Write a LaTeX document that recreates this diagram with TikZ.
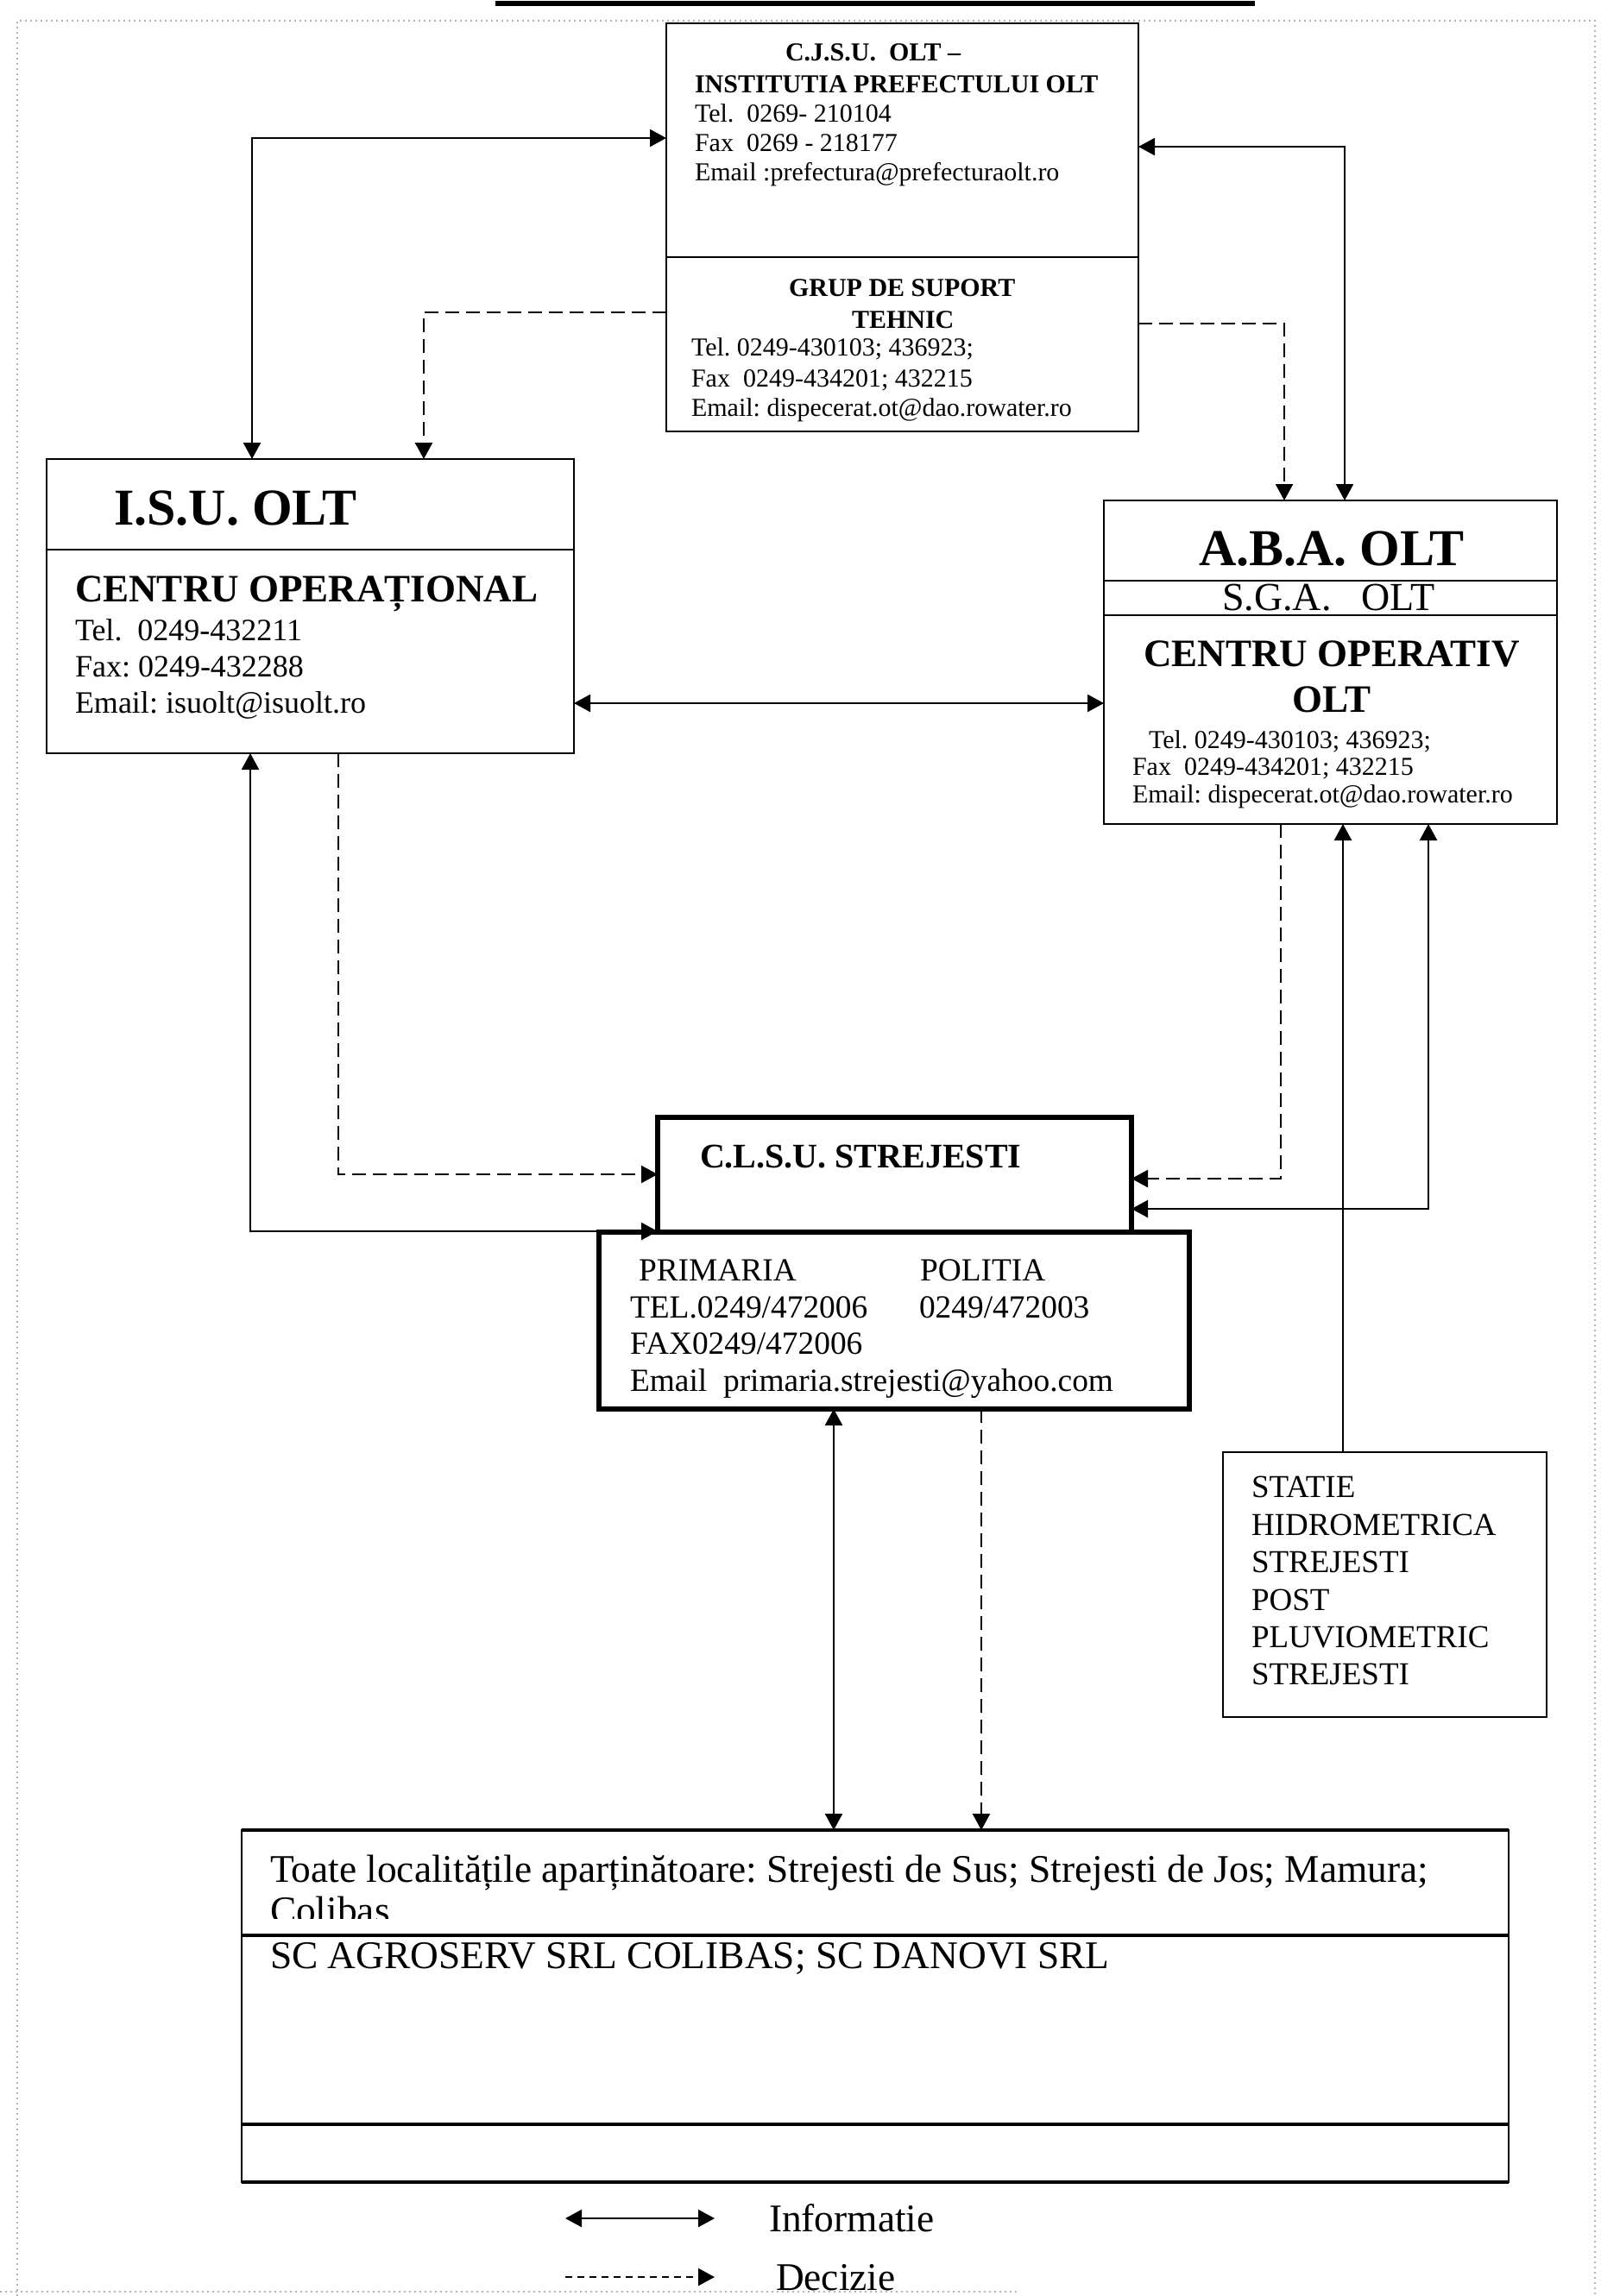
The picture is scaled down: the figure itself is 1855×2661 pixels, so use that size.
\documentclass[tikz,border=0pt]{standalone}
\usepackage{fontspec}
\setmainfont{Liberation Serif}
\usetikzlibrary{arrows.meta,calc}
\newcommand\FsA{\fontsize{15}{18}\selectfont}
\newcommand\FsBig{\fontsize{30}{36}\selectfont\bfseries}
\newcommand\FsMid{\fontsize{22.5}{27}\selectfont\bfseries}
\newcommand\FsSga{\fontsize{23}{27}\selectfont}
\newcommand\FsIsu{\fontsize{18}{22}\selectfont}
\newcommand\FsCl{\fontsize{18.7}{22}\selectfont}
\newcommand\FsClB{\fontsize{20}{24}\selectfont\bfseries}
\newcommand\FsSt{\fontsize{18.5}{22}\selectfont}
\newcommand\FsBot{\fontsize{22.7}{27}\selectfont}
\begin{document}
\frenchspacing
\begin{tikzpicture}[x=0.5pt,y=-0.5pt,
  >={Triangle[length=9.5pt,width=10pt]},
  box/.style={draw,line width=1.2pt,inner sep=0pt,outer sep=0pt,anchor=north west},
  thickbox/.style={box,line width=3pt},
  txt/.style={anchor=base west,inner sep=0pt,outer sep=0pt},
  ctxt/.style={anchor=base,inner sep=0pt,outer sep=0pt},
  divider/.style={line width=1.2pt},
  info/.style={line width=1.2pt,<->},
  dec/.style={line width=1.2pt,dash pattern=on 8pt off 4pt,->},
  solidone/.style={line width=1.2pt,->},
  frame/.style={gray!60,line width=1pt,dotted}
]
\useasboundingbox (0,0) rectangle (1855,2661);
% page frame (scan)
\draw[frame] (20,2661) -- (20,24) -- (1848,24) -- (1848,2661);
\draw[frame] (0,2656) -- (1180,2656);
\draw[line width=3pt] (574,4) -- (1454,4);

% boxes
\node[box,minimum width=273.5pt,minimum height=236.5pt] (cj) at (772,27) {};
\node[box,minimum width=305.5pt,minimum height=170.5pt] (isu) at (54,532) {};
\node[box,minimum width=262.5pt,minimum height=187.5pt] (aba) at (1279,580) {};
\node[thickbox,minimum width=274.5pt,minimum height=66.5pt] (clsu) at (762,1295) {};
\node[thickbox,minimum width=342pt,minimum height=102.5pt] (cll) at (694,1428) {};
\node[box,minimum width=187.5pt,minimum height=153.5pt] (stat) at (1417,1683) {};
\node[box,line width=1pt,minimum width=734pt,minimum height=204pt] (bot) at (280,2121) {};

% dividers
\draw[divider] (cj.west |- 0,298) -- (cj.east |- 0,298);
\draw[divider] (isu.west |- 0,637) -- (isu.east |- 0,637);
\draw[divider] (aba.west |- 0,673) -- (aba.east |- 0,673);
\draw[divider] (aba.west |- 0,713) -- (aba.east |- 0,713);
\draw[line width=2pt] (bot.north west) -- (bot.north east);
\draw[line width=2pt] (bot.west |- 0,2243) -- (bot.east |- 0,2243);
\draw[line width=2pt] (bot.west |- 0,2462) -- (bot.east |- 0,2462);
\draw[line width=2pt] (bot.south west) -- (bot.south east);

% texts CJSU
\node[txt] (cj1) at (910,70) {\FsA\bfseries C.J.S.U.\ \ OLT –};
\node[txt] (cj2) at (805,107) {\FsA\bfseries INSTITUTIA PREFECTULUI OLT};
\node[txt] (cj3) at (805,141) {\FsA Tel.\ \ 0269- 210104};
\node[txt] (cj4) at (805,175) {\FsA Fax\ \ 0269 - 218177};
\node[txt] (cj5) at (805,209) {\FsA Email :prefectura@prefecturaolt.ro};
\node[txt] (gs1) at (914,343) {\FsA\bfseries GRUP DE SUPORT};
\node[txt] (gs2) at (987,380) {\FsA\bfseries TEHNIC};
\node[txt] (gs3) at (801,412) {\FsA Tel. 0249-430103; 436923;};
\node[txt] (gs4) at (801,448) {\FsA Fax\ \ 0249-434201; 432215};
\node[txt] (gs5) at (801,482) {\FsA Email: dispecerat.ot@dao.rowater.ro};

% texts ISU
\node[txt] (is1) at (132,608) {\FsBig I.S.U. OLT};
\node[txt] (is2) at (87,697) {\FsMid CENTRU OPERAȚIONAL};
\node[txt] (is3) at (87,742) {\FsIsu Tel.\ \ 0249-432211};
\node[txt] (is4) at (87,784) {\FsIsu Fax: 0249-432288};
\node[txt] (is5) at (87,826) {\FsIsu Email: isuolt@isuolt.ro};

% texts ABA
\node[txt] (ab1) at (1389,655) {\FsBig A.B.A. OLT};
\node[txt] (ab2) at (1416,707) {\FsSga S.G.A.\ \ \ OLT};
\node[ctxt] (ab3) at (1543,772) {\FsMid CENTRU OPERATIV};
\node[ctxt] (ab4) at (1543,825) {\FsMid OLT};
\node[txt] (ab5) at (1331,867) {\FsA Tel. 0249-430103; 436923;};
\node[txt] (ab6) at (1312,898) {\FsA Fax\ \ 0249-434201; 432215};
\node[txt] (ab7) at (1312,930) {\FsA Email: dispecerat.ot@dao.rowater.ro};

% texts CLSU
\node[txt] (cl1) at (811,1353) {\FsClB C.L.S.U. STREJESTI};
\node[txt] (cl2) at (740,1484) {\FsCl PRIMARIA};
\node[txt] (cl3) at (1066,1484) {\FsCl POLITIA};
\node[txt] (cl4) at (730,1527) {\FsCl TEL.0249/472006};
\node[txt] (cl5) at (1065,1527) {\FsCl 0249/472003};
\node[txt] (cl6) at (730,1569) {\FsCl FAX0249/472006};
\node[txt] (cl7) at (730,1612) {\FsCl Email\ \ primaria.strejesti@yahoo.com};

% texts station
\node[txt] (st1) at (1450,1735) {\FsSt STATIE};
\node[txt] (st2) at (1450,1779) {\FsSt HIDROMETRICA};
\node[txt] (st3) at (1450,1822) {\FsSt STREJESTI};
\node[txt] (st4) at (1450,1866) {\FsSt POST};
\node[txt] (st5) at (1450,1909) {\FsSt PLUVIOMETRIC};
\node[txt] (st6) at (1450,1952) {\FsSt STREJESTI};

% texts bottom box
\node[txt] (bt1) at (313,2181) {\FsBot Toate localitățile aparținătoare: Strejesti de Sus; Strejesti de Jos; Mamura;};
\begin{scope}
\clip (290,2180) rectangle (600,2223);
\node[txt] (bt2) at (313,2229) {\FsBot Colibas};
\end{scope}
\node[txt] (bt3) at (313,2281) {\FsBot SC AGROSERV SRL COLIBAS; SC DANOVI SRL};

% connectors
\draw[info] (cj.west |- 0,160) -| (isu.north -| 292,0);
\draw[dec] (cj.west |- 0,362) -| (isu.north -| 491,0);
\draw[info] (cj.east |- 0,170) -| (aba.north -| 1558,0);
\draw[dec] (cj.east |- 0,375) -| (aba.north -| 1488,0);
\draw[info] (isu.east |- 0,815) -- (aba.west |- 0,815);
\draw[info] (isu.south -| 290,0) |- (clsu.west |- 0,1427);
\draw[dec] (isu.south -| 392,0) |- (clsu.west |- 0,1361);
\draw[dec] (aba.south -| 1484,0) |- (clsu.east |- 0,1366);
\draw[info] (aba.south -| 1655,0) |- (clsu.east |- 0,1401);
\draw[solidone] (stat.north -| 1556,0) -- (aba.south -| 1556,0);
\draw[info] (cll.south -| 966,0) -- (bot.north -| 966,0);
\draw[dec] (cll.south -| 1137,0) -- (bot.north -| 1137,0);

% legend
\coordinate (la1) at (655,2571);
\coordinate (la2) at (828,2571);
\coordinate (lb1) at (655,2639);
\coordinate (lb2) at (828,2639);
\draw[info] (la1) -- (la2);
\draw[line width=1.2pt,dash pattern=on 4pt off 3pt,->] (lb1) -- (lb2);
\node[txt] (lg1) at (891,2586) {\FsBot Informatie};
\node[txt] (lg2) at (899,2654) {\FsBot Decizie};
\end{tikzpicture}
\end{document}
